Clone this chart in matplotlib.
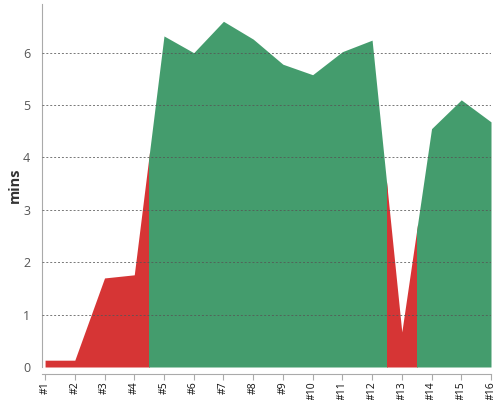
import numpy as np
import matplotlib
matplotlib.use("Agg")
import matplotlib.pyplot as plt
from matplotlib.patches import Rectangle

plt.rcParams['font.family'] = ['Open Sans', 'DejaVu Sans']

# data
labels = ["#%d" % i for i in range(1, 17)]
mins = [0.13, 0.13, 1.70, 1.76, 6.32, 6.00, 6.60, 6.26,
        5.78, 5.58, 6.02, 6.24, 0.67, 4.55, 5.10, 4.68]
# colour zones along the x axis (category index ranges)
zone_edges = [-0.5, 3.5, 11.5, 12.5, 15.5]
zone_colors = ["#d63535", "#449c6d", "#d63535", "#449c6d"]

x = np.arange(len(mins))

fig = plt.figure(figsize=(5, 4), dpi=100)
ax = fig.add_axes([0.083, 0.0825, 0.899, 0.9075])

for (x0, x1), col in zip(zip(zone_edges[:-1], zone_edges[1:]), zone_colors):
    poly = ax.fill_between(x, 0, mins, color=col, linewidth=0, zorder=1)
    clip = Rectangle((x0, -1), x1 - x0, 10, transform=ax.transData)
    poly.set_clip_path(clip)

ax.set_xlim(-0.12, 15)
ax.set_ylim(0, 6.93)
ax.set_xticks(x)
ax.set_xticklabels(labels)
ax.set_yticks(range(7))
ax.tick_params(axis='y', length=0, labelsize=9, labelcolor="#555555", pad=8)
ax.tick_params(axis='x', length=4, color="#aaaaaa", pad=1.5, labelrotation=90,
               labelsize=7.5, labelcolor="#111111")

ax.grid(axis='y', linestyle=(0, (2, 2)), color="#555555", linewidth=0.7, alpha=0.8, zorder=3)
ax.set_axisbelow(False)

for s in ['top', 'right']:
    ax.spines[s].set_visible(False)
ax.spines['left'].set_color("#aaaaaa")
ax.spines['bottom'].set_color("#aaaaaa")
ax.spines['bottom'].set_position(('outward', 5))

ax.set_ylabel("mins", fontsize=10.5, fontweight='bold', color="#333333", labelpad=1)

fig.savefig("out.png", dpi=100)
